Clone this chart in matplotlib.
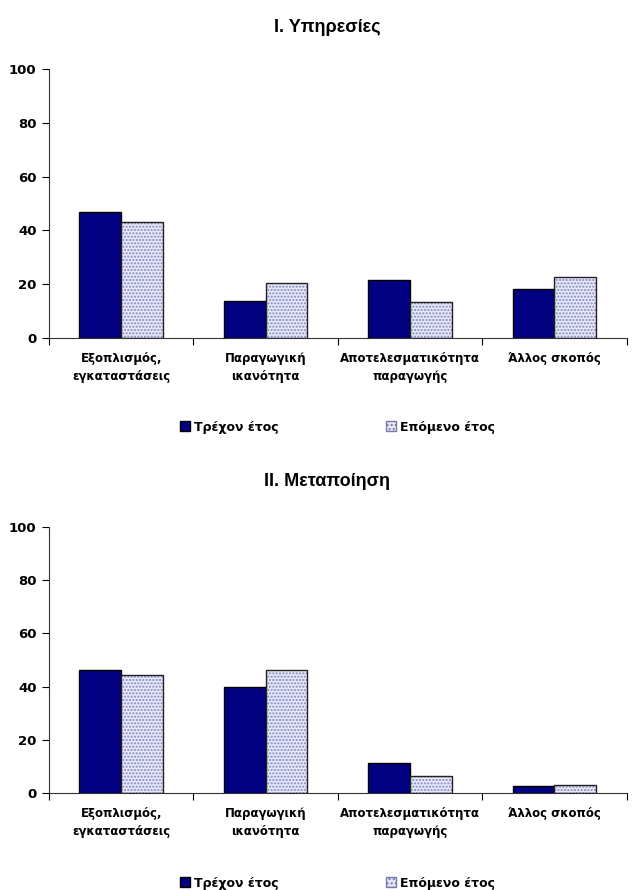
import matplotlib.pyplot as plt
import numpy as np
from matplotlib.patches import Patch

# Δεδομένα
categories = ['Εξοπλισμός,\nεγκαταστάσεις', 'Παραγωγική\nικανότητα',
              'Αποτελεσματικότητα\nπαραγωγής', 'Άλλος σκοπός']
series_names = ['Τρέχον έτος', 'Επόμενο έτος']
services_current = [46.7, 13.8, 21.6, 18.1]
services_next = [43.2, 20.4, 13.3, 22.7]
manuf_current = [46.3, 39.7, 11.2, 2.5]
manuf_next = [44.5, 46.2, 6.4, 3.1]
titles = ['I. Υπηρεσίες', 'II. Μεταποίηση']
yticks = [0, 20, 40, 60, 80, 100]

plt.rcParams['font.family'] = ['DejaVu Sans']
dark = '#000080'
light_face = '#e6e8f6'
hatch_col = '#8486c6'

fig = plt.figure(figsize=(6.34, 8.90), dpi=100)
ax1 = fig.add_axes([0.0773, 0.6202, 0.911, 0.3022])
ax2 = fig.add_axes([0.0773, 0.1090, 0.911, 0.2990])

w = 0.29
x = np.arange(len(categories)) + 0.5

def draw(ax, cur, nxt, title, ty, ly):
    ax.bar(x - w / 2, cur, w, color=dark, edgecolor='black', linewidth=1)
    # hatched bars: pattern first, then a dark outline
    ax.bar(x + w / 2, nxt, w, color=light_face, edgecolor=hatch_col,
           hatch='.....', linewidth=0)
    ax.bar(x + w / 2, nxt, w, color='none', edgecolor='#222222', linewidth=1)
    ax.set_xlim(0, len(categories))
    ax.set_ylim(0, 100)
    ax.set_yticks(yticks)
    ax.set_yticklabels([str(t) for t in yticks], fontweight='bold', fontsize=9.5)
    ax.set_xticks(np.arange(len(categories) + 1))
    ax.set_xticklabels([])
    ax.set_xticks(x, minor=True)
    ax.set_xticklabels(categories, minor=True, fontweight='bold', fontsize=8.5,
                       linespacing=1.5)
    ax.tick_params(axis='x', which='minor', length=0, pad=10)
    ax.tick_params(axis='x', which='major', length=5, direction='out')
    ax.tick_params(axis='y', length=5, direction='out', pad=4)
    for s in ['top', 'right']:
        ax.spines[s].set_visible(False)
    ax.spines['left'].set_color('#333333')
    ax.spines['bottom'].set_color('#333333')
    fig.text(0.516, ty, title, ha='center', va='center', fontsize=13,
             fontweight='bold', family='Liberation Sans')
    handles = [Patch(facecolor=dark, edgecolor='black'),
               Patch(facecolor=light_face, edgecolor='#7777aa', hatch='....')]
    fig.legend(handles, series_names, ncol=2, loc='center',
               bbox_to_anchor=(0.532, ly), frameon=False,
               prop={'weight': 'bold', 'size': 9}, handlelength=0.8,
               handleheight=0.8, handletextpad=0.3, columnspacing=8.6)

draw(ax1, services_current, services_next, titles[0], 1 - 27 / 890, 1 - 427 / 890)
draw(ax2, manuf_current, manuf_next, titles[1], 1 - 482 / 890, 1 - 883 / 890)

fig.savefig('out.png', dpi=100)
